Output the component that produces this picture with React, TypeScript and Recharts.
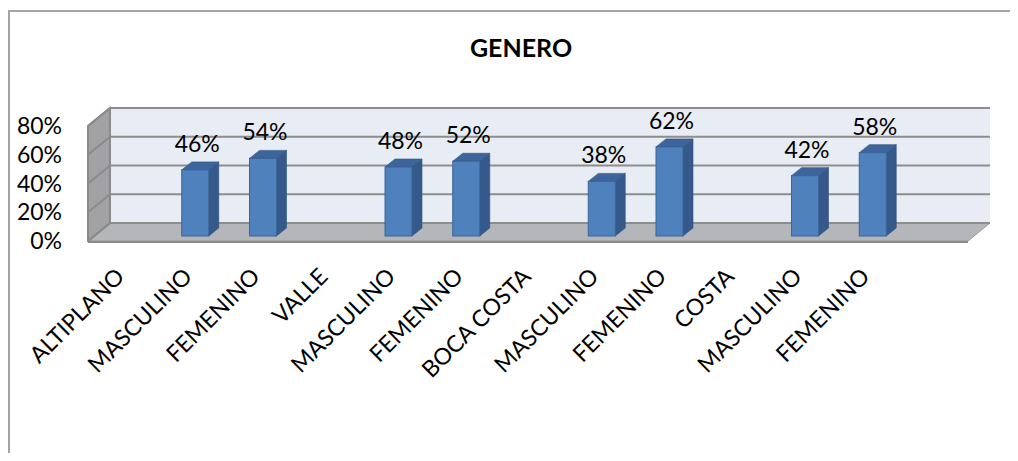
import { BarChart, Bar, XAxis, YAxis, CartesianGrid, LabelList } from "recharts";

const categories = [
  "ALTIPLANO",
  "MASCULINO",
  "FEMENINO",
  "VALLE",
  "MASCULINO",
  "FEMENINO",
  "BOCA COSTA",
  "MASCULINO",
  "FEMENINO",
  "COSTA",
  "MASCULINO",
  "FEMENINO",
];
const shares = [null, 0.46, 0.54, null, 0.48, 0.52, null, 0.38, 0.62, null, 0.42, 0.58];
const yTicks = [0, 0.2, 0.4, 0.6, 0.8];

const rows = categories.map((name, i) => ({ name, value: shares[i] }));

// layout of the drawing (front plane of the floor = recharts plot area)
const W = 1002;
const H = 445;
const LEFT = 80;
const TOP = 118;
const PLOT_W = 880;
const PLOT_H = 115;
const DEPTH_X = 22; // back wall offset
const DEPTH_Y = 18;
const BAR_SHIFT_X = 6; // bars sit halfway into the floor
const BAR_SHIFT_Y = -5;
const BAR_DX = 10;
const BAR_DY = 8;
const FONT = "Lato, 'Open Sans', sans-serif";
const GRID = "#8d8d8d";

function Backdrop() {
  const bx = LEFT + DEPTH_X;
  const by = TOP - DEPTH_Y;
  const bottom = TOP + PLOT_H;
  return (
    <svg width={W} height={H} style={{ position: "absolute", left: 0, top: 0 }}>
      <text
        x={513}
        y={49}
        textAnchor="middle"
        fontFamily={FONT}
        fontWeight="bold"
        fontSize={25}
        fill="#000"
      >
        GENERO
      </text>
      <rect x={bx} y={by} width={PLOT_W} height={PLOT_H} fill="#e8ecf4" />
      <polygon
        points={`${LEFT},${bottom} ${bx},${by + PLOT_H} ${bx + PLOT_W},${by + PLOT_H} ${LEFT + PLOT_W},${bottom}`}
        fill="#b4b6b9"
        stroke="#9a9a9a"
        strokeWidth={1}
      />
      <polygon
        points={`${LEFT},${TOP} ${bx},${by} ${bx},${by + PLOT_H} ${LEFT},${bottom}`}
        fill="#a2a2a4"
      />
      <rect x={LEFT} y={bottom} width={PLOT_W} height={2} fill="#8a8a8a" />
      <line x1={bx} y1={by} x2={bx + PLOT_W} y2={by} stroke={GRID} strokeWidth={2} />
    </svg>
  );
}

function WallEdges() {
  const bx = LEFT + DEPTH_X;
  const by = TOP - DEPTH_Y;
  const bottom = TOP + PLOT_H;
  return (
    <svg width={W} height={H} style={{ position: "absolute", left: 0, top: 0, pointerEvents: "none" }}>
      <polyline
        points={`${LEFT},${bottom + 1} ${LEFT},${TOP} ${bx},${by} ${bx},${by + PLOT_H} ${LEFT},${bottom}`}
        fill="none"
        stroke="#8a8a8a"
        strokeWidth={2}
      />
    </svg>
  );
}

function GridLine(props: any) {
  const { x1, y1, x2, index } = props;
  return (
    <g key={`grid-${index}`}>
      <line x1={x1} y1={y1} x2={x1 + DEPTH_X} y2={y1 - DEPTH_Y} stroke="#8a8a8a" strokeWidth={2} />
      <line
        x1={x1 + DEPTH_X}
        y1={y1 - DEPTH_Y}
        x2={x2 + DEPTH_X}
        y2={y1 - DEPTH_Y}
        stroke={GRID}
        strokeWidth={2}
      />
    </g>
  );
}

function Column3D(props: any) {
  const { x, y, width, height, value } = props;
  if (value == null || !height || height <= 0) return <g />;
  const fx = x + BAR_SHIFT_X;
  const fy = y + BAR_SHIFT_Y;
  return (
    <g>
      <polygon
        points={`${fx + width},${fy} ${fx + width + BAR_DX},${fy - BAR_DY} ${fx + width + BAR_DX},${fy + height - BAR_DY} ${fx + width},${fy + height}`}
        fill="#34598a"
        stroke="#2f5280"
        strokeWidth={0.6}
      />
      <polygon
        points={`${fx},${fy} ${fx + BAR_DX},${fy - BAR_DY} ${fx + width + BAR_DX},${fy - BAR_DY} ${fx + width},${fy}`}
        fill="#3d659c"
        stroke="#2f5280"
        strokeWidth={0.6}
      />
      <rect x={fx} y={fy} width={width} height={height} fill="#4f81bd" stroke="#3b6497" strokeWidth={1} />
    </g>
  );
}

function ValueLabel(props: any) {
  const { x, y, width, value } = props;
  if (value == null) return null;
  return (
    <text
      x={x + width / 2 + BAR_SHIFT_X + 2}
      y={y + BAR_SHIFT_Y - 18}
      textAnchor="middle"
      fontFamily={FONT}
      fontSize={23}
      fill="#000"
    >
      {`${Math.round(value * 100)}%`}
    </text>
  );
}

function CategoryTick(props: any) {
  const { x, y, payload } = props;
  const tx = x + 4;
  const ty = y + 35;
  return (
    <text
      x={tx}
      y={ty}
      textAnchor="end"
      transform={`rotate(-45, ${tx}, ${ty})`}
      fontFamily={FONT}
      fontSize={23}
      fill="#000"
    >
      {payload.value}
    </text>
  );
}

export default function App() {
  return (
    <div style={{ position: "relative", width: W, height: H, overflow: "hidden" }}>
      <div
        style={{
          position: "absolute",
          left: 0,
          top: 2,
          width: W + 20,
          height: H + 20,
          borderLeft: "2px solid #a4a4a4",
          borderTop: "2px solid #a4a4a4",
        }}
      />
      <Backdrop />
      <div style={{ position: "absolute", left: 0, top: 0 }}>
        <BarChart
          width={W}
          height={H}
          data={rows}
          margin={{ top: TOP, right: W - LEFT - PLOT_W, bottom: H - TOP - PLOT_H - 60, left: 0 }}
        >
          <CartesianGrid vertical={false} horizontal={GridLine} />
          <XAxis
            dataKey="name"
            height={60}
            axisLine={false}
            tickLine={false}
            tickSize={0}
            interval={0}
            padding={{ left: 0, right: 67 }}
            tick={CategoryTick}
          />
          <YAxis
            width={LEFT}
            domain={[0, 0.8]}
            ticks={yTicks}
            interval={0}
            axisLine={false}
            tickLine={false}
            tickSize={0}
            tickMargin={26}
            tickFormatter={(v) => `${Math.round(v * 100)}%`}
            tick={{ fontFamily: FONT, fontSize: 23, fill: "#000" }}
          />
          <Bar dataKey="value" barSize={27} shape={Column3D} isAnimationActive={false}>
            <LabelList dataKey="value" content={ValueLabel} />
          </Bar>
        </BarChart>
      </div>
      <WallEdges />
    </div>
  );
}
